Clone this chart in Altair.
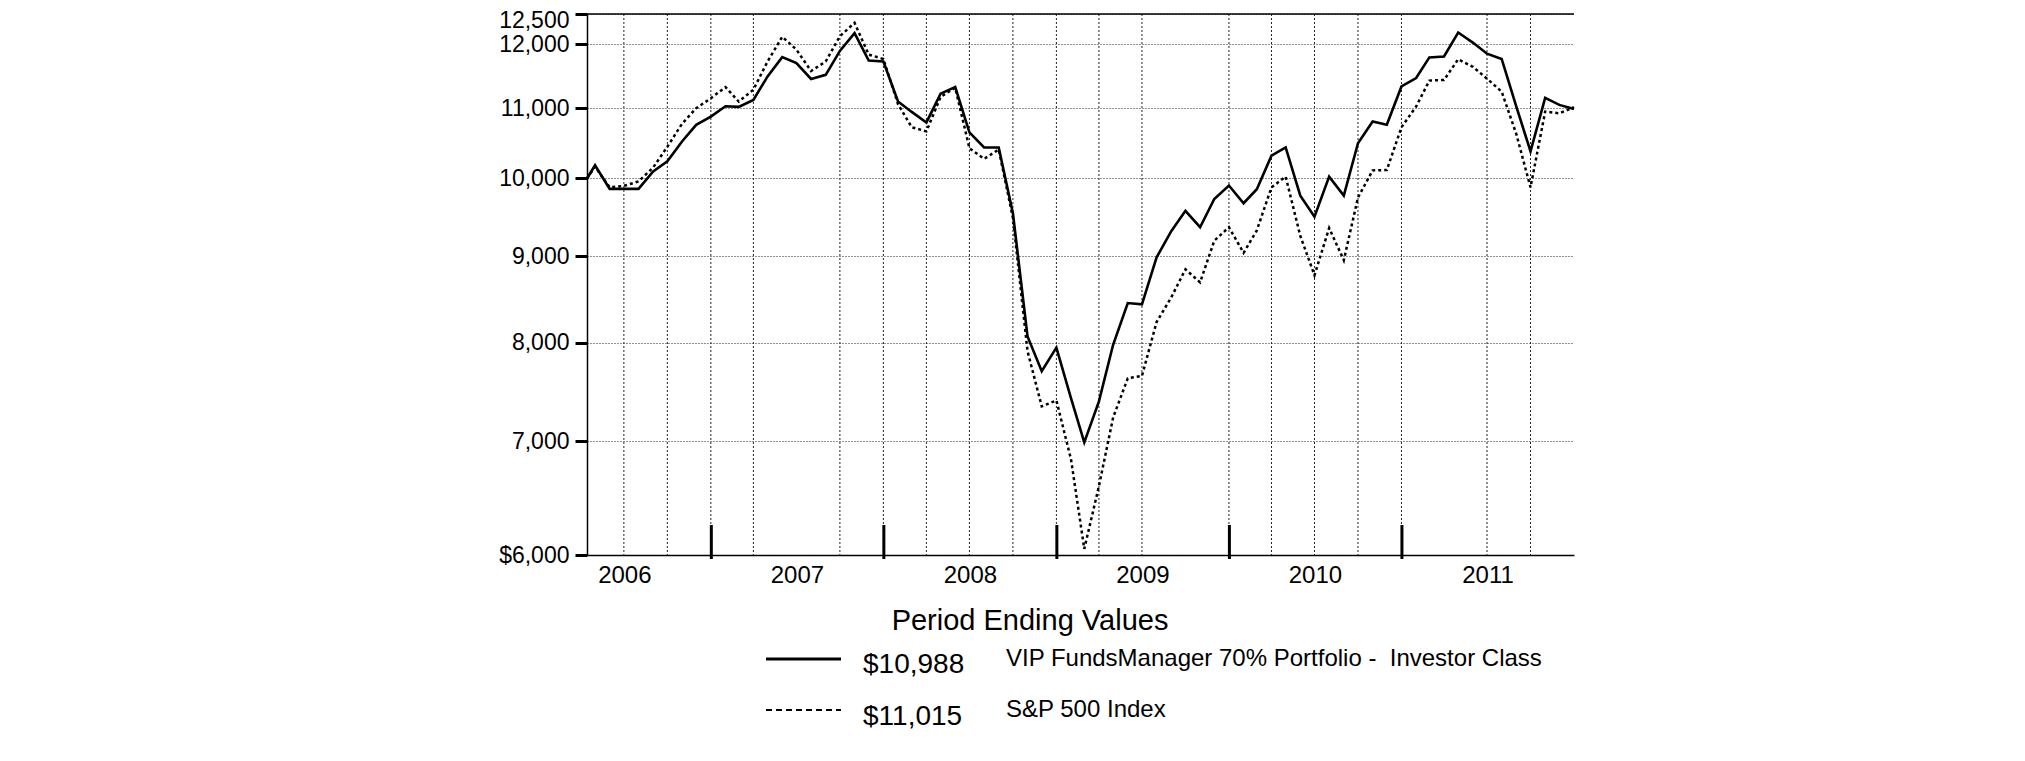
import calendar
import altair as alt
import pandas as pd

# ---------------- data ----------------
start_date = "2006-04-13"

fund_values = [
    10000,
    10180, 9860, 9860, 9860, 10095, 10235, 10515, 10755, 10875,
    11030, 11020, 11125, 11485, 11790, 11695, 11445, 11510, 11890, 12180, 11735, 11720,
    11100, 10945, 10790, 11220, 11320, 10645, 10430, 10430, 9540, 8070, 7700, 7950,
    7420, 6990, 7390, 7980, 8445, 8430, 8985, 9310, 9570, 9360, 9725, 9905,
    9670, 9855, 10315, 10430, 9770, 9495, 10025, 9770, 10490, 10805, 10755, 11330,
    11460, 11785, 11800, 12190, 12025, 11845, 11760, 11025, 10375, 11155, 11050, 10988,
]

sp500_values = [
    10000,
    10160, 9880, 9900, 9960, 10150, 10440, 10770, 11000, 11150,
    11320, 11100, 11280, 11720, 12120, 11910, 11570, 11720, 12130, 12350, 11830, 11760,
    11060, 10720, 10660, 11170, 11310, 10420, 10270, 10400, 9480, 7910, 7340, 7400,
    6830, 6050, 6588, 7230, 7625, 7650, 8230, 8510, 8840, 8685, 9190, 9360,
    9040, 9320, 9880, 10025, 9250, 8770, 9350, 8950, 9745, 10110, 10115, 10720,
    11025, 11420, 11430, 11755, 11635, 11450, 11250, 10620, 9880, 10950, 10925, 11015,
]

y_ticks = [6000, 7000, 8000, 9000, 10000, 11000, 12000, 12500]
year_labels = [2006, 2007, 2008, 2009, 2010, 2011]
year_boundaries = ["2007-01-01", "2008-01-01", "2009-01-01", "2010-01-01", "2011-01-01"]
grid_dates = [
    "2006-06-30", "2006-09-30", "2006-12-31",
    "2007-03-31", "2007-09-30", "2007-12-31",
    "2008-03-31", "2008-06-30", "2008-09-30", "2008-12-31",
    "2009-03-31", "2009-06-30", "2009-12-31",
    "2010-03-31", "2010-06-30", "2010-09-30", "2010-12-31",
    "2011-06-30", "2011-09-30",
]
top_value = [12500]

legend_title = "Period Ending Values"
legend_values = ["$10,988", "$11,015"]
legend_names = ["VIP FundsManager 70% Portfolio - \u00a0Investor Class", "S&P 500 Index"]

# month-end dates
dates = [start_date]
for yr in range(2006, 2012):
    for mo in range(1, 13):
        if yr == 2006 and mo < 4:
            continue
        d = calendar.monthrange(yr, mo)[1]
        dates.append(f"{yr}-{mo:02d}-{d:02d}")

fund_df = pd.DataFrame({"date": dates, "value": fund_values})
sp_df = pd.DataFrame({"date": dates, "value": sp500_values})
grid_df = pd.DataFrame({"date": grid_dates})
yb_df = pd.DataFrame({"date": year_boundaries})
top_df = pd.DataFrame({"v": top_value})

# ---------------- layout ----------------
W, H = 987, 541
FONT = "Liberation Sans"

x_scale = alt.Scale(
    type="utc",
    domain=[alt.DateTime(year=2006, month=4, date=13, utc=True),
            alt.DateTime(year=2011, month=12, date=31, utc=True)],
)
y_scale = alt.Scale(type="log", domain=[6000, 12500], nice=False, zero=False)

x_axis = alt.Axis(
    values=[alt.DateTime(year=y, month=7, date=1, utc=True) for y in year_labels],
    labelExpr="utcFormat(datum.value, '%Y')",
    ticks=False, tickSize=0, grid=False, title=None,
    labelFont=FONT, labelFontSize=24, labelColor="black",
    labelBaseline="alphabetic", labelPadding=27,
    labelFlush=False, labelOverlap=False,
    domainColor="black", domainWidth=1.5,
)
y_axis = alt.Axis(
    values=y_ticks,
    labelExpr="datum.value == 6000 ? '$6,000' : format(datum.value, ',')",
    labelOffset={"condition": {"test": "datum.value == 12500", "value": 6}, "value": 0},
    tickSize=12, tickWidth=3, tickColor="black",
    labelFont=FONT, labelFontSize=23, labelColor="black", labelPadding=6,
    domainColor="black", domainWidth=1.5,
    grid=True, gridColor="#222222", gridDash=[1, 2], gridWidth=1,
    title=None, labelOverlap=False,
)

X = lambda: alt.X("date:T", scale=x_scale, axis=x_axis)
Y = lambda f: alt.Y(f, scale=y_scale, axis=y_axis)

vgrid = alt.Chart(grid_df).mark_rule(color="#222222", strokeDash=[2, 2], strokeWidth=1).encode(
    x=X()
)

top_rule = alt.Chart(top_df).mark_rule(color="black", strokeWidth=1.5).encode(
    y=Y("v:Q")
)

year_ticks = alt.Chart(yb_df).mark_rule(color="black", strokeWidth=3).encode(
    x=X(),
    y=alt.value(H - 30),
    y2=alt.value(H + 4),
)

sp_line = alt.Chart(sp_df).mark_line(color="black", strokeWidth=2.5, strokeDash=[3, 3]).encode(
    x=X(),
    y=Y("value:Q"),
)

fund_line = alt.Chart(fund_df).mark_line(color="black", strokeWidth=2.6).encode(
    x=X(),
    y=Y("value:Q"),
)


def text_layer(txt, x, y, size, align="left"):
    return alt.Chart(pd.DataFrame({"t": [txt]})).mark_text(
        align=align, baseline="alphabetic", font=FONT, fontSize=size, color="black"
    ).encode(text="t:N", x=alt.value(x), y=alt.value(y))


def sample_layer(y, dash, width):
    kw = dict(color="black", strokeWidth=width)
    if dash:
        kw["strokeDash"] = dash
    return alt.Chart(pd.DataFrame({"k": [0]})).mark_rule(**kw).encode(
        x=alt.value(179), x2=alt.value(254), y=alt.value(y)
    )


legend = [
    text_layer(legend_title, 443, 616, 29, align="center"),
    sample_layer(645, None, 3),
    text_layer(legend_values[0], 276, 659, 28),
    text_layer(legend_names[0], 419, 652, 24),
    sample_layer(696, [6, 4], 2),
    text_layer(legend_values[1], 276, 711, 28),
    text_layer(legend_names[1], 419, 703, 24),
]

chart = alt.layer(vgrid, top_rule, year_ticks, sp_line, fund_line, *legend).properties(
    width=W,
    height=H,
    padding={"left": 579, "top": 6, "right": 440, "bottom": 190},
    autosize=alt.AutoSizeParams(type="none"),
    background="white",
).configure_view(stroke=None)

chart.save("out.html", embed_options={"renderer": "svg", "actions": False})
